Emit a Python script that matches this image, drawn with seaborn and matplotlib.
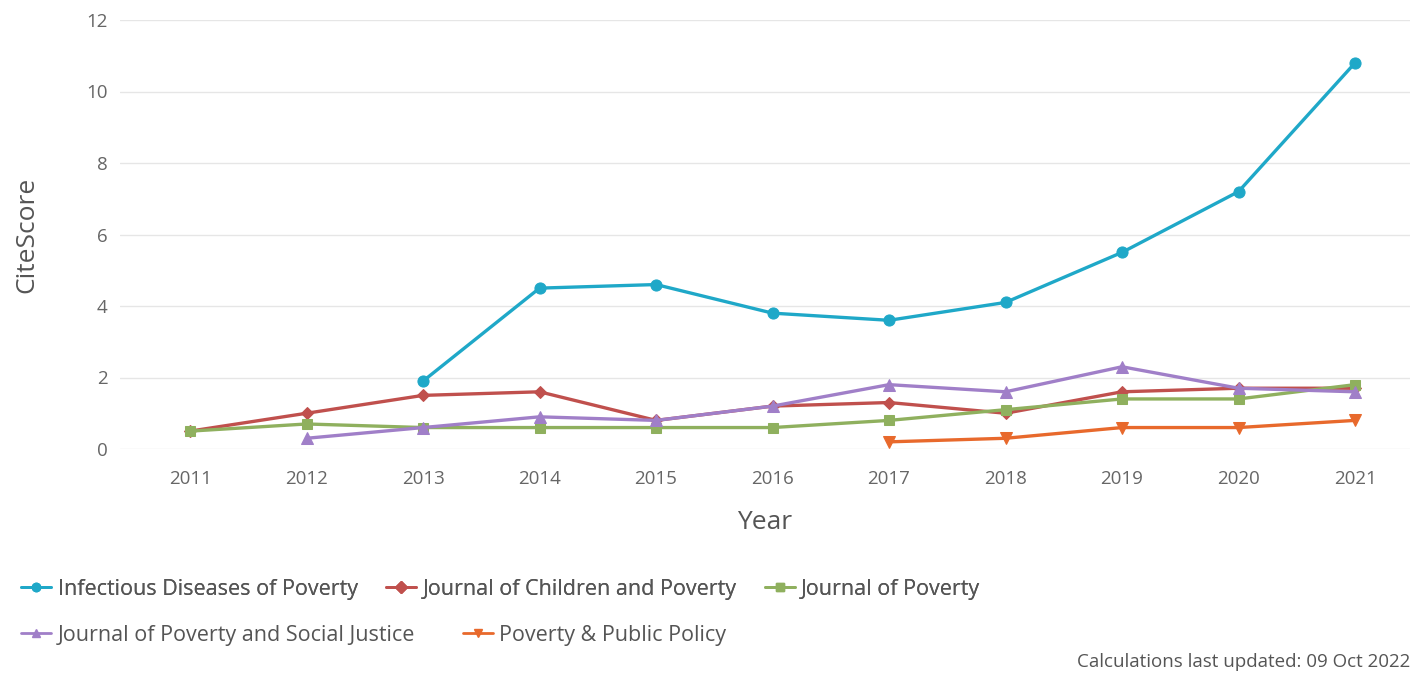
import numpy as np
import pandas as pd
import matplotlib
matplotlib.use("Agg")
import matplotlib.pyplot as plt
import seaborn as sns
from matplotlib.lines import Line2D

years = [2011, 2012, 2013, 2014, 2015, 2016, 2017, 2018, 2019, 2020, 2021]
infectious = [np.nan, np.nan, 1.9, 4.5, 4.6, 3.8, 3.6, 4.1, 5.5, 7.2, 10.8]
children = [0.5, 1.0, 1.5, 1.6, 0.8, 1.2, 1.3, 1.0, 1.6, 1.7, 1.7]
jpoverty = [0.5, 0.7, 0.6, 0.6, 0.6, 0.6, 0.8, 1.1, 1.4, 1.4, 1.8]
social = [np.nan, 0.3, 0.6, 0.9, 0.8, 1.2, 1.8, 1.6, 2.3, 1.7, 1.6]
policy = [np.nan, np.nan, np.nan, np.nan, np.nan, np.nan, 0.2, 0.3, 0.6, 0.6, 0.8]

names = ["Infectious Diseases of Poverty", "Journal of Children and Poverty",
         "Journal of Poverty", "Journal of Poverty and Social Justice",
         "Poverty & Public Policy"]
series = [infectious, children, jpoverty, social, policy]
colors = ["#1fa8c8", "#c0504d", "#8fb05e", "#a07fc8", "#e8692c"]
markers = ["o", "D", "s", "^", "v"]
msizes = [8, 6, 7.5, 8, 8]
yticks = [0, 2, 4, 6, 8, 10, 12]

sns.set_theme(style="white")
plt.rcParams['font.family'] = ['Open Sans', 'DejaVu Sans']

fig = plt.figure(figsize=(14.14, 6.86), dpi=100)
ax = fig.add_axes([0.085, 1 - 449 / 686, 0.912, (449 - 20) / 686])

for name, vals, c, m, ms in zip(names, series, colors, markers, msizes):
    df = pd.DataFrame({"Year": years, "CiteScore": vals}).dropna()
    sns.lineplot(data=df, x="Year", y="CiteScore", ax=ax, color=c, marker=m,
                 markersize=ms, markeredgecolor=c, linewidth=2.4, clip_on=False,
                 label=None, legend=False)

ax.set_xlim(2010.4, 2021.47)
ax.set_ylim(0, 12)
ax.set_xticks(years)
ax.set_xticklabels([str(y) for y in years])
ax.set_yticks(yticks)
ax.set_yticklabels([str(t) for t in yticks])
ax.grid(axis="y", color="#e6e6e6", linewidth=1)
ax.grid(axis="x", visible=False)
for s in ax.spines.values():
    s.set_visible(False)
ax.tick_params(axis="both", colors="#666666", labelsize=13.5, length=0)
ax.tick_params(axis="x", pad=15)
ax.tick_params(axis="y", pad=9)
ax.set_xlabel("Year", fontsize=19, color="#555555", labelpad=16)
ax.set_ylabel("CiteScore", fontsize=19, color="#555555")
ax.yaxis.set_label_coords(-0.063, 0.5)

handles = [Line2D([0], [0], color=c, marker=m, markersize=6, linewidth=2)
           for c, m in zip(colors, markers)]
leg1 = fig.legend(handles[:3], names[:3], loc="center left",
                  bbox_to_anchor=(0.009, 1 - 589 / 686), ncol=3, frameon=False,
                  fontsize=15.5, handlelength=1.4, handletextpad=0.3,
                  columnspacing=1.3, borderaxespad=0, labelcolor="#555555")
fig.add_artist(leg1)
leg2 = fig.legend(handles[3:], names[3:], loc="center left",
                  bbox_to_anchor=(0.009, 1 - 635 / 686), ncol=2, frameon=False,
                  fontsize=15.5, handlelength=1.4, handletextpad=0.3,
                  columnspacing=2.2, borderaxespad=0, labelcolor="#555555")

fig.text(0.997, 1 - 662 / 686, "Calculations last updated: 09 Oct 2022",
         ha="right", va="center", fontsize=13.5, color="#555555")

fig.savefig("out.png", dpi=100, facecolor="white")
